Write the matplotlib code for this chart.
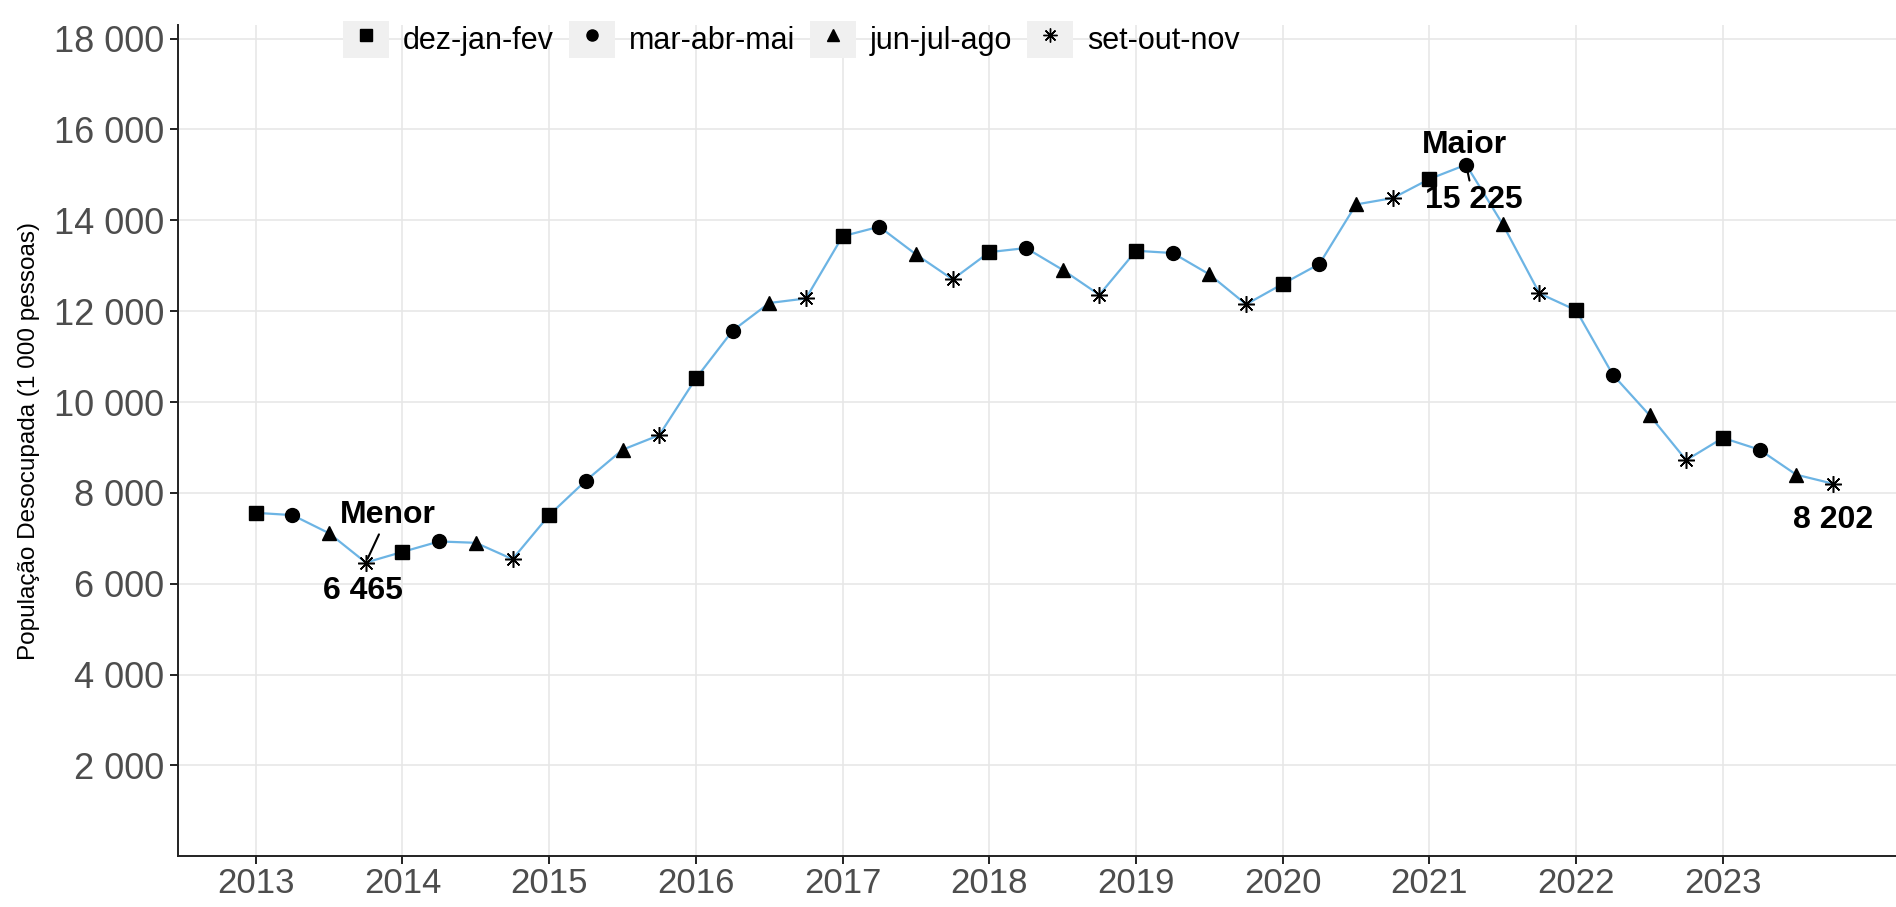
import matplotlib
matplotlib.use("Agg")
import matplotlib.pyplot as plt
import matplotlib.patches as mpatches
from matplotlib.lines import Line2D
from matplotlib.legend_handler import HandlerTuple
from matplotlib.ticker import FuncFormatter

plt.rcParams['font.family'] = ['Liberation Sans', 'DejaVu Sans']

# trimestres móveis: dez-jan-fev, mar-abr-mai, jun-jul-ago, set-out-nov
anos = list(range(2013, 2024))
trimestres = ["dez-jan-fev", "mar-abr-mai", "jun-jul-ago", "set-out-nov"]
marcadores = ["s", "o", "^", (8, 2, 0)]

# população desocupada (1 000 pessoas), por ano, na ordem dos trimestres
desocupada = [
    7560, 7510, 7110, 6465,    # 2013
    6700, 6930, 6900, 6540,    # 2014
    7510, 8270, 8950, 9270,    # 2015
    10520, 11570, 12180, 12280,  # 2016
    13650, 13860, 13250, 12700,  # 2017
    13300, 13390, 12910, 12360,  # 2018
    13330, 13280, 12810, 12150,  # 2019
    12600, 13040, 14350, 14490,  # 2020
    14910, 15225, 13910, 12390,  # 2021
    12020, 10600, 9710, 8720,  # 2022
    9210, 8950, 8400, 8202,    # 2023
]
tempo = [a + q * 0.25 for a in anos for q in range(4)]

fmt = lambda v: f"{int(round(v)):,}".replace(",", " ")

fig = plt.figure(figsize=(18.96, 9.07), dpi=100)
ax = fig.add_axes([0.0939, 0.056, 0.9061, 0.9164])

ax.plot(tempo, desocupada, color="#6cb4e4", lw=1.6, zorder=2)
tamanhos = [9.5, 10, 10.5, 12]
for q, (nome, mk) in enumerate(zip(trimestres, marcadores)):
    xs = tempo[q::4]
    ys = desocupada[q::4]
    ax.plot(xs, ys, ls="none", marker=mk, ms=tamanhos[q], color="black",
            mec="black", mew=1.1 if q == 3 else 1, zorder=3)

# anotações: menor, maior e último valor
i_min = desocupada.index(min(desocupada))
i_max = desocupada.index(max(desocupada))
x_min, y_min = tempo[i_min], desocupada[i_min]
x_max, y_max = tempo[i_max], desocupada[i_max]
x_fim, y_fim = tempo[-1], desocupada[-1]
bold = dict(fontsize=23, fontweight="bold", color="black")

ax.annotate("Menor", xy=(x_min, y_min), xytext=(x_min + 0.15, y_min + 1040),
            ha="center", va="center", **bold,
            arrowprops=dict(arrowstyle="-", color="black", lw=1.5,
                            shrinkA=1, shrinkB=3))
ax.text(x_min - 0.02, y_min - 620, fmt(y_min), ha="center", va="center", **bold)

ax.text(x_max - 0.01, y_max + 430, "Maior", ha="center", va="center", **bold)
ax.annotate(fmt(y_max), xy=(x_max, y_max), xytext=(x_max + 0.05, y_max - 770),
            ha="center", va="center", **bold,
            arrowprops=dict(arrowstyle="-", color="black", lw=1.5,
                            shrinkA=1, shrinkB=4))
ax.text(x_fim, y_fim - 810, fmt(y_fim), ha="center", va="center", **bold)

ax.set_xlim(2012.47, 2024.18)
ax.set_ylim(0, 18300)
ax.set_xticks(anos)
ax.set_yticks(range(2000, 18001, 2000))
ax.yaxis.set_major_formatter(FuncFormatter(lambda v, p: fmt(v)))
ax.grid(True, color="#e6e6e6", lw=1.1)
ax.set_axisbelow(True)
for s in ["top", "right"]:
    ax.spines[s].set_visible(False)
for s in ["left", "bottom"]:
    ax.spines[s].set_color("#222222")
    ax.spines[s].set_linewidth(1.4)
ax.tick_params(axis="both", labelsize=26, colors="#222222", labelcolor="#4d4d4d",
               length=6, width=1.4, pad=4)
ax.tick_params(axis="x", labelsize=25, pad=2)
ax.set_ylabel("População Desocupada (1 000 pessoas)", fontsize=17.5, color="black",
              labelpad=10)

handles = []
for q, mk in enumerate(marcadores):
    bg = mpatches.Patch(facecolor="#f0f0f0", edgecolor="none")
    ms = 10 if q == 3 else 8
    mkr = Line2D([], [], ls="none", marker=mk, ms=ms, color="black", mec="black", mew=1)
    handles.append((bg, mkr))
ax.legend(handles, trimestres, handler_map={tuple: HandlerTuple(ndivide=1)},
          ncol=4, loc="upper center", bbox_to_anchor=(0.357, 1.02), frameon=False,
          fontsize=22, handlelength=1.5, handleheight=1.5, handletextpad=0.45,
          columnspacing=0.5, borderaxespad=0)

fig.savefig("out.png", dpi=100)
